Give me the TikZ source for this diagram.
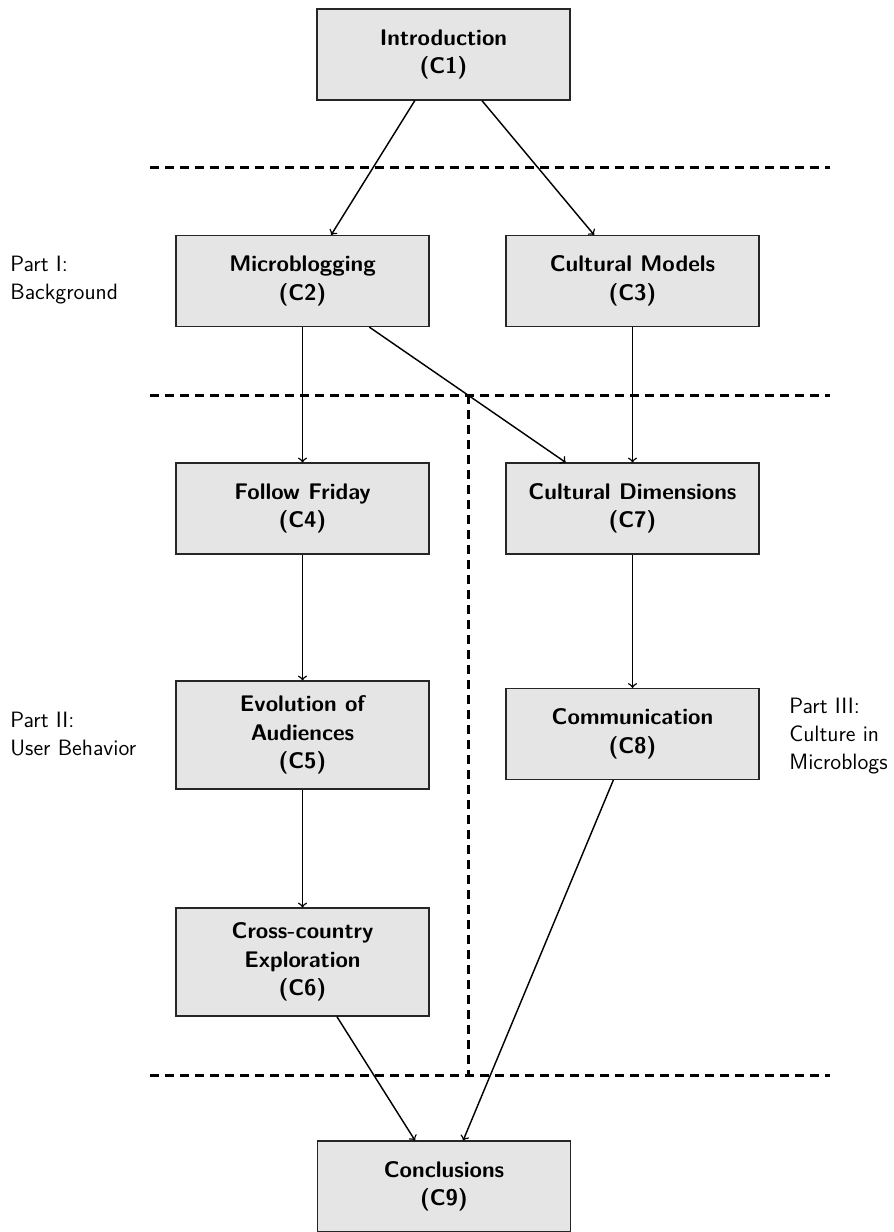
\documentclass[tikz,border=0pt]{standalone}
\begin{document}
\begin{tikzpicture}[x=0.5pt,y=-0.5pt,
  chap/.style={draw=black!85, fill=gray!20, line width=0.55pt, minimum width=126.5pt, minimum height=45.5pt, align=center, inner sep=2pt, font=\sffamily\bfseries\fontsize{11.3}{14.3}\selectfont},
  tall/.style={minimum height=54pt},
  part/.style={anchor=west, align=left, inner sep=0pt, font=\sffamily\fontsize{11.1}{13.8}\selectfont},
  link/.style={->, line width=0.72pt},
  sep/.style={line width=1.5pt, dash pattern=on 4.6pt off 2.9pt}
]
\useasboundingbox (0,0) rectangle (894,1232);
% separators
\draw[sep] (150,167) -- (830,167);
\draw[sep] (150,395) -- (830,395);
\draw[sep] (150,1075) -- (830,1075);
\draw[sep] (468,395) -- (468,1075);
% chapters
\node[chap] (c1) at (443.5,54.5) {Introduction\\(C1)};
\node[chap] (c2) at (302.5,281) {Microblogging\\(C2)};
\node[chap] (c3) at (632.5,281) {Cultural Models\\(C3)};
\node[chap] (c4) at (302.5,508.5) {Follow Friday\\(C4)};
\node[chap] (c7) at (632.5,508.5) {Cultural Dimensions\\(C7)};
\node[chap,tall] (c5) at (302.5,735) {Evolution of\\Audiences\\(C5)};
\node[chap] (c8) at (632.5,734) {Communication\\(C8)};
\node[chap,tall] (c6) at (302.5,962) {Cross-country\\Exploration\\(C6)};
\node[chap] (c9) at (444,1186.5) {Conclusions\\(C9)};
% part labels
\node[part] (p1) at (10,280) {Part I:\\Background};
\node[part] (p2) at (10,734) {Part II:\\User Behavior};
\node[part] (p3) at (789,736) {Part III:\\Culture in\\Microblogs};
% links
\draw[link] (c1) -- (c2);
\draw[link] (c1) -- (c3);
\draw[link] (c2) -- (c4);
\draw[link] (c2) -- (c7);
\draw[link] (c3) -- (c7);
\draw[link] (c4) -- (c5);
\draw[link] (c5) -- (c6);
\draw[link] (c7) -- (c8);
\draw[link] (c6) -- (c9);
\draw[link] (c8) -- (c9);
\end{tikzpicture}
\end{document}
